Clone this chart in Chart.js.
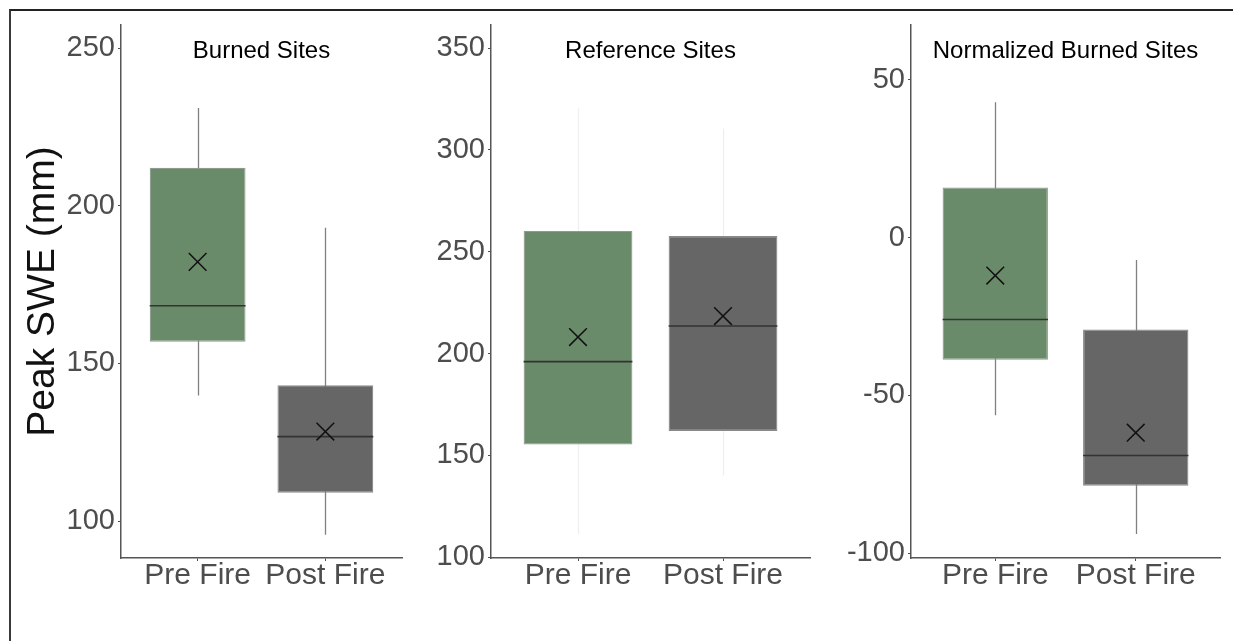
<!DOCTYPE html>
<html>
<head>
<meta charset="utf-8">
<title>Peak SWE box plots</title>
<script src="https://cdn.jsdelivr.net/npm/chart.js@4.4.1/dist/chart.umd.min.js"></script>
<style>
  body { margin: 0; background: #fff; }
  #wrap { position: relative; width: 1233px; height: 641px; overflow: hidden; }
  #frame { position: absolute; left: 9px; top: 9px; right: 0; bottom: 0;
           border-top: 2px solid #222; border-left: 2px solid #3a3a3a; }
  canvas { position: absolute; top: 0; }
</style>
</head>
<body>
<div id="wrap">
  <div id="frame"></div>
  <canvas id="burned" width="410" height="641" style="left:0px"></canvas>
  <canvas id="reference" width="410" height="641" style="left:410px"></canvas>
  <canvas id="normalized" width="413" height="641" style="left:820px"></canvas>
</div>
<script>
// categories
const groups = ['Pre Fire', 'Post Fire'];

// Burned Sites
const burnedMin = [139.8, 95.7];
const burnedQ1 = [156.9, 109.0];
const burnedMedian = [168.3, 126.8];
const burnedQ3 = [212.0, 143.1];
const burnedMax = [231.0, 193.0];
const burnedMean = [182.2, 128.4];
const burnedTicks = [100, 150, 200, 250];

// Reference Sites
const refMin = [111.4, 140.1];
const refQ1 = [155.3, 162.0];
const refMedian = [196.0, 213.5];
const refQ3 = [260.2, 257.7];
const refMax = [320.4, 310.5];
const refMean = [208.1, 218.4];
const refTicks = [100, 150, 200, 250, 300, 350];

// Normalized Burned Sites
const normMin = [-56.3, -93.9];
const normQ1 = [-38.7, -78.6];
const normMedian = [-25.9, -69.0];
const normQ3 = [15.9, -29.1];
const normMax = [42.9, -7.1];
const normMean = [-12.0, -61.8];
const normTicks = [-100, -50, 0, 50];

Chart.defaults.font.family = '"Liberation Sans", Arial, sans-serif';

// whiskers behind the boxes, medians on top of them
const boxLines = {
    id: 'boxLines',
    beforeDatasetsDraw(chart, args, opts) {
        const ctx = chart.ctx;
        const x = chart.scales.x, y = chart.scales.y;
        ctx.save();
        ctx.strokeStyle = opts.whiskerColor;
        ctx.lineWidth = 1.3;
        opts.lo.forEach(function (v, i) {
            const px = Math.round(x.getPixelForValue(i + 1)) + 0.5;
            ctx.beginPath();
            ctx.moveTo(px, y.getPixelForValue(v));
            ctx.lineTo(px, y.getPixelForValue(opts.hi[i]));
            ctx.stroke();
        });
        ctx.restore();
    },
    afterDatasetDraw(chart, args, opts) {
        if (args.index !== 0) return;
        const ctx = chart.ctx;
        const y = chart.scales.y;
        const bars = chart.getDatasetMeta(0).data;
        ctx.save();
        ctx.strokeStyle = '#333';
        ctx.lineWidth = 1.6;
        opts.median.forEach(function (v, i) {
            const bar = bars[i];
            const py = y.getPixelForValue(v);
            ctx.beginPath();
            ctx.moveTo(bar.x - bar.width / 2, py);
            ctx.lineTo(bar.x + bar.width / 2, py);
            ctx.stroke();
        });
        ctx.restore();
    }
};

function makePanel(id, cfg) {
    const yScale = {
        min: cfg.yMin,
        max: cfg.yMax,
        afterBuildTicks: function (s) {
            s.ticks = cfg.ticks.map(v => ({value: v}));
        },
        afterFit: function (s) {
            s.width = cfg.yWidth;
        },
        ticks: {color: '#4d4d4d', font: {size: 29}, padding: 3},
        grid: {drawOnChartArea: false, tickLength: 3, color: '#4d4d4d'},
        border: {color: '#555', width: 1.5}
    };
    if (cfg.yTitle) {
        yScale.title = {
            display: true,
            text: cfg.yTitle,
            color: '#111',
            font: {size: 39},
            padding: {top: 19.6, bottom: 0}
        };
    }

    return new Chart(document.getElementById(id), {
        type: 'bar',
        data: {
            datasets: [{
                data: groups.map((g, i) => ({x: i + 1, y: [cfg.q1[i], cfg.q3[i]]})),
                backgroundColor: ['#6a8b6a', '#666666'],
                borderColor: ['#8d9c8d', '#8a8a8a'],
                borderWidth: 1.2,
                borderSkipped: false,
                categoryPercentage: 1,
                barPercentage: 0.75,
                order: 1
            }, {
                type: 'scatter',
                data: groups.map((g, i) => ({x: i + 1, y: cfg.mean[i]})),
                pointStyle: 'crossRot',
                pointRadius: 12.5,
                pointBorderColor: '#111',
                pointBorderWidth: 1.5,
                order: 0
            }]
        },
        options: {
            responsive: false,
            animation: false,
            layout: {autoPadding: false, padding: {left: 0, right: cfg.padRight, top: 0, bottom: 0}},
            scales: {
                x: {
                    type: 'linear',
                    min: 0.4,
                    max: 2.6,
                    offset: false,
                    afterBuildTicks: function (s) {
                        s.ticks = groups.map((g, i) => ({value: i + 1}));
                    },
                    afterFit: function (s) {
                        s.height = 83;
                        s.paddingLeft = 0;
                        s.paddingRight = 0;
                    },
                    ticks: {
                        callback: (v, i) => groups[i],
                        color: '#4d4d4d',
                        font: {size: 30},
                        padding: -3,
                        autoSkip: false,
                        maxRotation: 0
                    },
                    grid: {drawOnChartArea: false, offset: false, tickLength: 3, color: '#4d4d4d'},
                    border: {color: '#555', width: 1.5}
                },
                y: yScale
            },
            plugins: {
                legend: {display: false},
                tooltip: {enabled: false},
                title: {
                    display: true,
                    fullSize: false,
                    text: cfg.title,
                    color: '#000',
                    font: {size: 24, weight: 'normal'},
                    padding: {top: 36.6, bottom: -40.4}
                },
                boxLines: {
                    lo: cfg.lo,
                    hi: cfg.hi,
                    median: cfg.median,
                    whiskerColor: cfg.whiskerColor
                }
            }
        },
        plugins: [boxLines]
    });
}

makePanel('burned', {
    title: 'Burned Sites',
    yTitle: 'Peak SWE (mm)',
    lo: burnedMin, q1: burnedQ1, median: burnedMedian, q3: burnedQ3, hi: burnedMax, mean: burnedMean,
    ticks: burnedTicks, yMin: 88.3, yMax: 257.3,
    yWidth: 121, padRight: 8, whiskerColor: '#808080'
});

makePanel('reference', {
    title: 'Reference Sites',
    lo: refMin, q1: refQ1, median: refMedian, q3: refQ3, hi: refMax, mean: refMean,
    ticks: refTicks, yMin: 99.6, yMax: 361.3,
    yWidth: 81, padRight: 10, whiskerColor: '#efefef'
});

makePanel('normalized', {
    title: 'Normalized Burned Sites',
    lo: normMin, q1: normQ1, median: normMedian, q3: normQ3, hi: normMax, mean: normMean,
    ticks: normTicks, yMin: -101.5, yMax: 67.4,
    yWidth: 91, padRight: 13, whiskerColor: '#808080'
});
</script>
</body>
</html>
